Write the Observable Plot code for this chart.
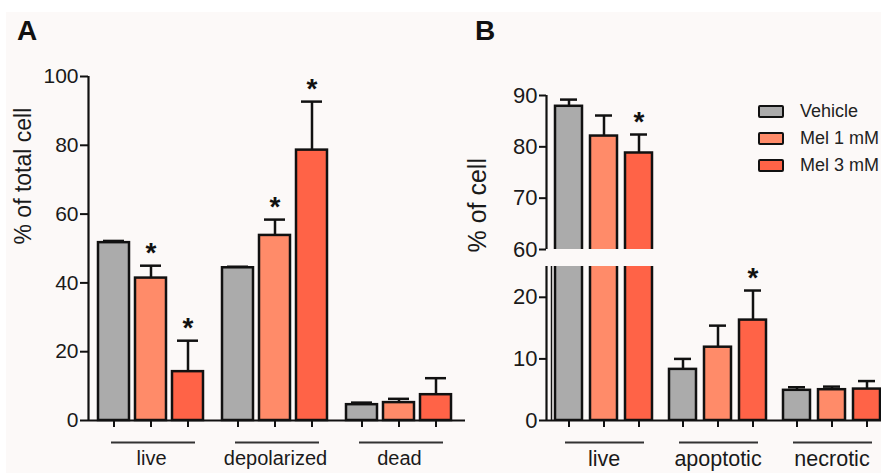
<!DOCTYPE html>
<html><head><meta charset="utf-8">
<script src="https://cdn.jsdelivr.net/npm/d3@7"></script>
<script src="https://cdn.jsdelivr.net/npm/@observablehq/plot@0.6"></script>
<style>
body{margin:0;background:#fff;}
#root{position:relative;width:881px;height:473px;overflow:hidden;background:#fff;font-family:"Liberation Sans",Arial,sans-serif;}
#bg{position:absolute;left:6px;top:12px;right:0;bottom:0;background:#fcf9f8;}
.layer{position:absolute;left:0;top:0;width:881px;height:473px;}
.layer svg{position:absolute;left:0;top:0;overflow:visible;}
.letter{position:absolute;font-weight:bold;font-size:28px;line-height:28px;color:#111;}
.legend{position:absolute;left:758px;top:98px;font-size:18px;color:#222;}
.legend .row{display:flex;align-items:center;height:27px;}
.legend .sw{width:22px;height:9px;border:2.5px solid #111;border-radius:2px;margin-right:16px;}
</style></head>
<body><div id="root"><div id="bg"></div></div>
<script>
// ---- data ----
const series = ["Vehicle", "Mel 1 mM", "Mel 3 mM"];
const colors = ["#ababab", "#ff8b69", "#ff6347"];

const groupsA = ["live", "depolarized", "dead"];
const vehicleA = [51.7, 44.4, 4.6];
const mel1A = [41.4, 53.8, 5.2];
const mel3A = [14.2, 78.6, 7.5];
const vehicleErrA = [0.5, 0.3, 0.6];
const mel1ErrA = [3.6, 4.6, 1.1];
const mel3ErrA = [9.0, 14.1, 4.8];
const starsA = [["live", "Mel 1 mM"], ["live", "Mel 3 mM"], ["depolarized", "Mel 1 mM"], ["depolarized", "Mel 3 mM"]];
const yTicksA = [0, 20, 40, 60, 80, 100];
const yLabelA = "% of total cell";

const groupsB = ["live", "apoptotic", "necrotic"];
const vehicleB = [87.9, 8.3, 4.9];
const mel1B = [82.1, 11.9, 5.0];
const mel3B = [78.8, 16.3, 5.1];
const vehicleErrB = [1.3, 1.7, 0.5];
const mel1ErrB = [4.0, 3.5, 0.5];
const mel3ErrB = [3.6, 4.8, 1.3];
const starsB = [["live", "Mel 3 mM"], ["apoptotic", "Mel 3 mM"]];
const yDomainBTop = [60, 90];
const yDomainBBottom = [0, 25];
const yTicksBTop = [60, 70, 80, 90];
const yTicksBBottom = [0, 10, 20];
const yLabelB = "% of cell";

// ---- build tables ----
function rows(groups, vals, errs) {
  const out = [];
  groups.forEach((g, gi) => series.forEach((s, si) => {
    out.push({group: g, series: s, value: vals[si][gi], upper: vals[si][gi] + errs[si][gi]});
  }));
  return out;
}
const rowsA = rows(groupsA, [vehicleA, mel1A, mel3A], [vehicleErrA, mel1ErrA, mel3ErrA]);
const rowsB = rows(groupsB, [vehicleB, mel1B, mel3B], [vehicleErrB, mel1ErrB, mel3ErrB]);
const starRows = (rs, stars) => rs.filter(r => stars.some(([g, s]) => g === r.group && s === r.series));
const inDomain = ([a, b]) => r => r.upper >= a && r.upper <= b;

const W = 881, H = 473;
const FONT = "Liberation Sans, Arial, Helvetica, sans-serif";
const style = {background: "transparent", fontFamily: FONT, color: "#1a1a1a", overflow: "visible"};
const ink = "#111";
const root = document.getElementById("root");
function addLayer(svg) {
  const d = document.createElement("div");
  d.className = "layer";
  d.appendChild(svg);
  root.appendChild(d);
}

// ---- Panel A: axes ----
addLayer(Plot.plot({
  width: W, height: H, marginLeft: 88, marginRight: W - 465, marginTop: 76, marginBottom: 53, style,
  x: {domain: [0, 1], axis: null},
  y: {domain: [0, 100]},
  marks: [
    Plot.axisY(yTicksA, {tickSize: 8, tickPadding: 2, fontSize: 21, strokeWidth: 2, stroke: ink, label: null}),
    Plot.ruleX([0], {stroke: ink, strokeWidth: 2.2}),
    Plot.ruleY([0], {stroke: ink, strokeWidth: 2.2}),
    Plot.text([yLabelA], {frameAnchor: "left", rotate: -90, dx: -65, dy: -4, fontSize: 23, fill: "#1a1a1a"})
  ]
}));

// ---- shared bar marks ----
function barMarks(data, stars, clip, capInset) {
  return [
    Plot.barY(data, {fx: "group", x: "series", y: "value", fill: "series", stroke: ink, strokeWidth: 2.5, clip}),
    Plot.ruleX(data, {fx: "group", x: "series", y1: "value", y2: "upper", stroke: ink, strokeWidth: 2.5, clip}),
    Plot.tickY(data, {fx: "group", x: "series", y: "upper", stroke: ink, strokeWidth: 2.5, insetLeft: capInset, insetRight: capInset, clip}),
    Plot.text(stars, {fx: "group", x: "series", y: "upper", text: () => "*", fontSize: 28, fontWeight: "bold", lineAnchor: "bottom", dy: -4, fill: ink})
  ];
}
function groupAxis(groups, fontSize, insetL, insetR) {
  return [
    Plot.axisX({tickSize: 7, tickFormat: () => "", stroke: ink, strokeWidth: 2, label: null}),
    Plot.axisFx({anchor: "bottom", tickSize: 0, tickPadding: 30, fontSize, label: null, fill: "#1a1a1a"}),
    Plot.tickY(groups, {fx: d => d, y: () => 0, dy: 22, insetLeft: insetL, insetRight: insetR, stroke: "#333", strokeWidth: 1.8})
  ];
}

// ---- Panel A: bars ----
addLayer(Plot.plot({
  width: W, height: H, marginLeft: 0, marginRight: 0, marginTop: 76, marginBottom: 53, style,
  fx: {domain: groupsA, range: [95.75, 455.25], paddingInner: 0.1125, paddingOuter: 0, axis: null, label: null},
  x: {domain: series, paddingInner: 0.162, paddingOuter: 0.05, axis: null},
  y: {domain: [0, 100], axis: null},
  color: {domain: series, range: colors},
  marks: [
    ...barMarks(rowsA, starRows(rowsA, starsA), false, 5),
    ...groupAxis(groupsA, 20, 15, 11)
  ]
}));

// ---- Panel B: top segment axes ----
addLayer(Plot.plot({
  width: W, height: H, marginLeft: 546, marginRight: W - 655, marginTop: 95, marginBottom: H - 249, style,
  x: {domain: [0, 1], axis: null},
  y: {domain: yDomainBTop},
  marks: [
    Plot.axisY(yTicksBTop, {tickSize: 7, tickPadding: 2, fontSize: 22, strokeWidth: 2, stroke: ink, label: null}),
    Plot.ruleX([0], {stroke: ink, strokeWidth: 2.2}),
    Plot.text([yLabelB], {frameAnchor: "bottom-left", rotate: -90, dx: -61, dy: 3, fontSize: 25, fill: "#1a1a1a"})
  ]
}));
// ---- Panel B: bottom segment axes ----
addLayer(Plot.plot({
  width: W, height: H, marginLeft: 546, marginRight: 0, marginTop: 266, marginBottom: 53, style,
  x: {domain: [0, 1], axis: null},
  y: {domain: yDomainBBottom},
  marks: [
    Plot.axisY(yTicksBBottom, {tickSize: 7, tickPadding: 2, fontSize: 22, strokeWidth: 2, stroke: ink, label: null}),
    Plot.ruleX([0], {stroke: ink, strokeWidth: 2.2}),
    Plot.ruleX([0], {stroke: ink, strokeWidth: 1.5, dx: 5}),
    Plot.ruleY([0], {stroke: ink, strokeWidth: 2.2})
  ]
}));
// ---- Panel B: bars, two segments of the broken axis ----
const fxB = {domain: groupsB, range: [551.45, 883.55], paddingInner: 0.0996, paddingOuter: 0, axis: null, label: null};
const xB = {domain: series, paddingInner: 0.236, paddingOuter: 0.05, axis: null};
const starRowsB = starRows(rowsB, starsB);
addLayer(Plot.plot({
  width: W, height: H, marginLeft: 0, marginRight: 0, marginTop: 95, marginBottom: H - 249, style,
  fx: fxB, x: xB, y: {domain: yDomainBTop, axis: null},
  color: {domain: series, range: colors},
  marks: barMarks(rowsB, starRowsB.filter(inDomain(yDomainBTop)), true, 5)
}));
addLayer(Plot.plot({
  width: W, height: H, marginLeft: 0, marginRight: 0, marginTop: 266, marginBottom: 53, style,
  fx: fxB, x: xB, y: {domain: yDomainBBottom, axis: null},
  color: {domain: series, range: colors},
  marks: [
    ...barMarks(rowsB, starRowsB.filter(inDomain(yDomainBBottom)), true, 5),
    ...groupAxis(groupsB, 21.5, 13, 11)
  ]
}));

// ---- panel letters and legend ----
for (const [t, x] of [["A", 17], ["B", 475]]) {
  const d = document.createElement("div");
  d.className = "letter"; d.textContent = t;
  d.style.left = x + "px"; d.style.top = "17px";
  root.appendChild(d);
}
const leg = document.createElement("div");
leg.className = "legend";
series.forEach((s, i) => {
  const r = document.createElement("div"); r.className = "row";
  const sw = document.createElement("span"); sw.className = "sw"; sw.style.background = colors[i];
  const tx = document.createElement("span"); tx.textContent = s;
  r.appendChild(sw); r.appendChild(tx); leg.appendChild(r);
});
root.appendChild(leg);
</script>
</body></html>
